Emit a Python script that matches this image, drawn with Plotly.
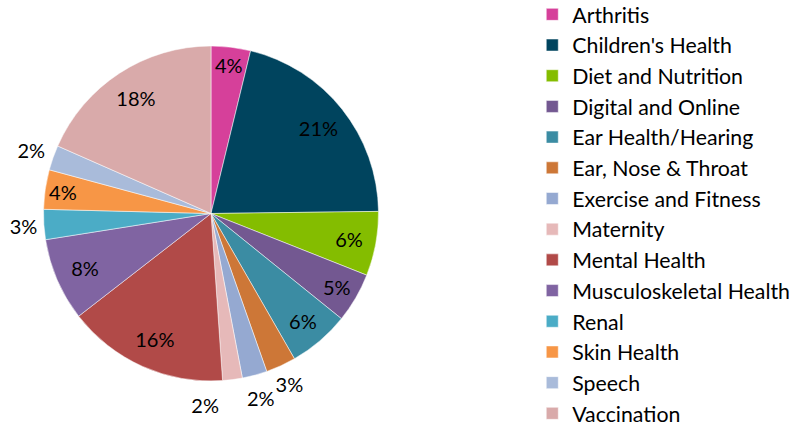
import plotly.graph_objects as go

categories = ["Arthritis", "Children's Health", "Diet and Nutrition", "Digital and Online",
              "Ear Health/Hearing", "Ear, Nose & Throat", "Exercise and Fitness", "Maternity",
              "Mental Health", "Musculoskeletal Health", "Renal", "Skin Health", "Speech",
              "Vaccination"]
values = [3.8, 21.0, 6.2, 4.8, 5.9, 2.9, 2.4, 1.9, 15.6, 8.0, 2.9, 3.8, 2.4, 18.4]
colors = ["#D6409A", "#00445E", "#84BD00", "#735891", "#3B8CA3", "#CD7737", "#95A9D1",
          "#E6B9B9", "#B14A48", "#8064A2", "#4BACC6", "#F79646", "#A9BBDA", "#D9AAAA"]
outside_labels = {"Ear, Nose & Throat", "Exercise and Fitness", "Maternity", "Renal", "Speech"}
shifted_labels = {"Maternity"}  # label nudged left (padding) so it clears its neighbour

PCT = "%{percent:.0%}"
inner_tpl = ["" if c in outside_labels else PCT for c in categories]
outer_tpl = [(PCT + "\u00a0" * 12 if c in shifted_labels else PCT)
             if c in outside_labels else "" for c in categories]

W, H = 798, 428
cx, cy, r = 211, 213.5, 167.5   # pie centre / radius in px
R_out = 205                      # radius of the label ring for outside labels


def dom(rad):
    return dict(x=[(cx - rad) / W, (cx + rad) / W],
                y=[(H - cy - rad) / H, (H - cy + rad) / H])


common = dict(labels=categories, values=values, sort=False, direction="clockwise",
              rotation=0)
font = dict(family="Lato", size=20, color="black")
clear = ["rgba(0,0,0,0)"] * len(categories)

fig = go.Figure()
fig.add_trace(go.Pie(
    **common,
    marker=dict(colors=colors, line=dict(color="white", width=0.5)),
    textinfo="none",
    domain=dom(r),
    hoverinfo="label+percent",
    name="",
))
# ring carrying the inside labels (placed ~0.82 of the radius)
fig.add_trace(go.Pie(
    **common,
    hole=0.64,
    marker=dict(colors=clear, line=dict(width=0)),
    texttemplate=inner_tpl,
    textposition="inside",
    insidetextorientation="horizontal",
    textfont=font,
    domain=dom(r),
    showlegend=False,
    hoverinfo="skip",
))
# ring outside the pie carrying the labels of the thin slices
fig.add_trace(go.Pie(
    **common,
    hole=r / R_out,
    marker=dict(colors=clear, line=dict(width=0)),
    texttemplate=outer_tpl,
    textposition="inside",
    insidetextorientation="horizontal",
    textfont=font,
    domain=dom(R_out),
    showlegend=False,
    hoverinfo="skip",
))

fig.update_layout(
    width=W, height=H,
    margin=dict(l=0, r=0, t=0, b=0, autoexpand=False),
    paper_bgcolor="white",
    plot_bgcolor="white",
    font=font,
    uniformtext=dict(minsize=20, mode="show"),
    legend=dict(x=0.667, y=1.014, xanchor="left", yanchor="top",
                font=dict(family="Lato", size=21.3, color="black"),
                tracegroupgap=0, itemwidth=30, maxheight=1000),
)

fig.write_html("out.html", post_script="document.body.style.margin='0';",
               config={"displayModeBar": False})
